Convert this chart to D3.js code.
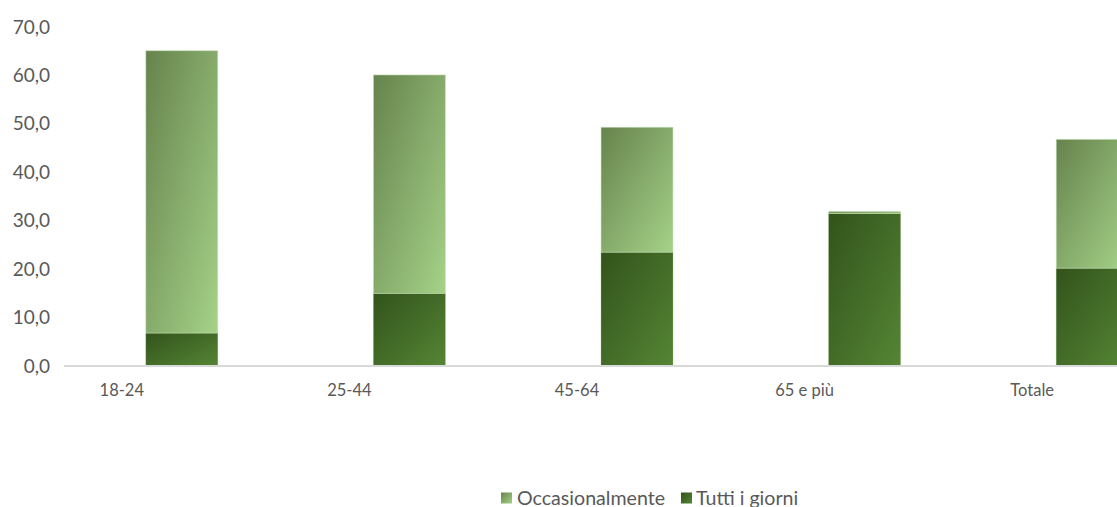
<!DOCTYPE html>
<html lang="it">
<head>
<meta charset="utf-8">
<script src="https://cdn.jsdelivr.net/npm/d3@7"></script>
<style>
  html, body { margin: 0; padding: 0; background: #ffffff; }
  svg { display: block; font-family: Lato, "Open Sans", sans-serif; }
</style>
</head>
<body>
<svg id="chart" width="1117" height="507"></svg>
<script>
// Fasce d'età e quote (%) per frequenza
const categories = ["18-24", "25-44", "45-64", "65 e più", "Totale"];
const tuttiIGiorni = [6.8, 15.0, 23.5, 31.5, 20.2];
const occasionalmente = [58.3, 45.1, 25.8, 0.4, 26.6];
const yTicks = [0, 10, 20, 30, 40, 50, 60, 70];
const seriesNames = ["Tutti i giorni", "Occasionalmente"];

const svg = d3.select("#chart");

const itLocale = d3.formatLocale({ decimal: ",", thousands: ".", grouping: [3], currency: ["€", ""] });
const fmt = itLocale.format(".1f");

const x = d3.scaleBand()
  .domain(categories)
  .range([68, 1206])
  .paddingInner(0.684)
  .paddingOuter(0.342);

const y = d3.scaleLinear().domain([0, 70]).range([366, 27]);

// Gradients
const defs = svg.append("defs");
function grad(id, c0, c1) {
  const g = defs.append("linearGradient").attr("id", id)
    .attr("x1", 0).attr("y1", 0).attr("x2", 1).attr("y2", 1);
  g.append("stop").attr("offset", "0%").attr("stop-color", c0);
  g.append("stop").attr("offset", "100%").attr("stop-color", c1);
}
grad("gOcc", "#66834d", "#a5d288");
grad("gTutti", "#32531b", "#558535");

// Y axis labels (no axis line)
const yAxis = svg.append("g").attr("transform", "translate(50,0)")
  .call(d3.axisLeft(y).tickValues(yTicks).tickFormat(fmt).tickSize(0).tickPadding(0));
yAxis.select(".domain").remove();
yAxis.selectAll("text")
  .attr("fill", "#595959")
  .style("font-size", "19px")
  .style("font-family", "Lato, sans-serif");

// Stacked data
const rows = categories.map((c, i) => ({ cat: c, "Tutti i giorni": tuttiIGiorni[i], "Occasionalmente": occasionalmente[i] }));
const stacked = d3.stack().keys(seriesNames)(rows);
const fills = { "Tutti i giorni": "url(#gTutti)", "Occasionalmente": "url(#gOcc)" };
const strokes = { "Tutti i giorni": "rgba(120,170,90,0.35)", "Occasionalmente": "rgba(200,225,185,0.7)" };

svg.append("g").selectAll("g")
  .data(stacked)
  .join("g")
  .selectAll("rect")
  .data(s => s.map(d => ({ key: s.key, d })))
  .join("rect")
  .attr("x", o => x(o.d.data.cat))
  .attr("width", x.bandwidth())
  .attr("y", o => y(o.d[1]))
  .attr("height", o => y(o.d[0]) - y(o.d[1]))
  .attr("fill", o => fills[o.key])
  .attr("stroke", o => strokes[o.key])
  .attr("stroke-width", 0.8);

// X axis
const xAxis = svg.append("g").attr("transform", "translate(0,366)")
  .call(d3.axisBottom(x).tickSize(0).tickSizeOuter(0).tickPadding(0));
xAxis.select(".domain")
  .attr("d", "M64,0H1117")
  .attr("stroke", "#d9d9d9")
  .attr("stroke-width", 2);
xAxis.selectAll("text")
  .attr("x", -60)
  .attr("y", 25)
  .attr("dy", "0.32em")
  .attr("fill", "#595959")
  .style("font-size", "16.5px")
  .style("font-family", "Lato, sans-serif");

// Legend
const legendItems = [
  { name: "Occasionalmente", fill: "url(#gOcc)", sx: 501, tx: 517 },
  { name: "Tutti i giorni", fill: "url(#gTutti)", sx: 681, tx: 696 }
];
const lg = svg.append("g");
legendItems.forEach(it => {
  lg.append("rect").attr("x", it.sx).attr("y", 492.5).attr("width", 11).attr("height", 11).attr("fill", it.fill);
  lg.append("text").attr("x", it.tx).attr("y", 504.5)
    .attr("fill", "#595959")
    .style("font-size", "19.6px")
    .text(it.name);
});
</script>
</body>
</html>
